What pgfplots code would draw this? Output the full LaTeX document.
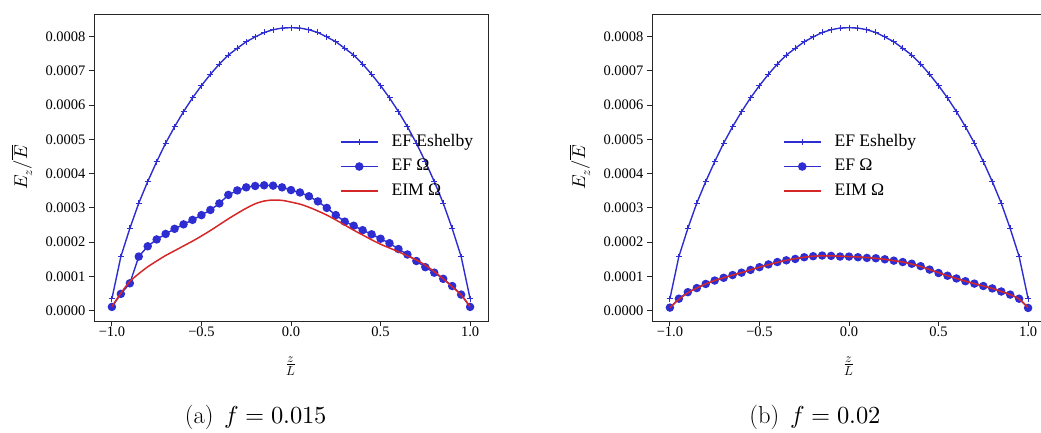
\documentclass[border=0pt]{standalone}
\usepackage{pgfplots}
\pgfplotsset{compat=1.18}
\usepackage{fontspec}
\usepackage{unicode-math}
\newfontfamily\tnr{Liberation Serif}
\definecolor{efblue}{RGB}{45,45,210}
\definecolor{eimred}{RGB}{214,39,40}

\pgfplotstableread{
x y
-1.00 0.000035
-0.95 0.000158
-0.90 0.000240
-0.85 0.000314
-0.80 0.000377
-0.75 0.000435
-0.70 0.000489
-0.65 0.000537
-0.60 0.000581
-0.55 0.000621
-0.50 0.000657
-0.45 0.000690
-0.40 0.000720
-0.35 0.000746
-0.30 0.000766
-0.25 0.000785
-0.20 0.000799
-0.15 0.000812
-0.10 0.000820
-0.05 0.000825
0.00 0.000826
0.05 0.000825
0.10 0.000820
0.15 0.000812
0.20 0.000799
0.25 0.000785
0.30 0.000766
0.35 0.000746
0.40 0.000720
0.45 0.000690
0.50 0.000657
0.55 0.000621
0.60 0.000581
0.65 0.000537
0.70 0.000489
0.75 0.000435
0.80 0.000377
0.85 0.000314
0.90 0.000240
0.95 0.000158
1.00 0.000035
}\eshelby

\pgfplotstableread{
x y
-1.00 0.000011
-0.95 0.000049
-0.90 0.000080
-0.85 0.000158
-0.80 0.000188
-0.75 0.000208
-0.70 0.000224
-0.65 0.000239
-0.60 0.000252
-0.55 0.000265
-0.50 0.000279
-0.45 0.000294
-0.40 0.000313
-0.35 0.000338
-0.30 0.000351
-0.25 0.000360
-0.20 0.000364
-0.15 0.000366
-0.10 0.000365
-0.05 0.000360
0.00 0.000352
0.05 0.000345
0.10 0.000334
0.15 0.000319
0.20 0.000300
0.25 0.000279
0.30 0.000260
0.35 0.000248
0.40 0.000235
0.45 0.000223
0.50 0.000210
0.55 0.000197
0.60 0.000180
0.65 0.000164
0.70 0.000145
0.75 0.000127
0.80 0.000111
0.85 0.000093
0.90 0.000072
0.95 0.000047
1.00 0.000011
}\efA

\pgfplotstableread{
x y
-1.00 0.000012
-0.95 0.000051
-0.90 0.000085
-0.85 0.000108
-0.80 0.000128
-0.75 0.000145
-0.70 0.000161
-0.65 0.000175
-0.60 0.000189
-0.55 0.000203
-0.50 0.000218
-0.45 0.000234
-0.40 0.000251
-0.35 0.000268
-0.30 0.000284
-0.25 0.000299
-0.20 0.000312
-0.15 0.000320
-0.10 0.000323
-0.05 0.000322
0.00 0.000317
0.05 0.000311
0.10 0.000302
0.15 0.000291
0.20 0.000279
0.25 0.000265
0.30 0.000250
0.35 0.000235
0.40 0.000221
0.45 0.000207
0.50 0.000194
0.55 0.000183
0.60 0.000172
0.65 0.000160
0.70 0.000148
0.75 0.000133
0.80 0.000114
0.85 0.000093
0.90 0.000070
0.95 0.000046
1.00 0.000012
}\eimA

\pgfplotstableread{
x y
-1.00 0.000009
-0.95 0.000035
-0.90 0.000054
-0.85 0.000066
-0.80 0.000078
-0.75 0.000088
-0.70 0.000096
-0.65 0.000104
-0.60 0.000111
-0.55 0.000119
-0.50 0.000127
-0.45 0.000135
-0.40 0.000142
-0.35 0.000147
-0.30 0.000151
-0.25 0.000156
-0.20 0.000159
-0.15 0.000161
-0.10 0.000160
-0.05 0.000158
0.00 0.000158
0.05 0.000156
0.10 0.000154
0.15 0.000153
0.20 0.000150
0.25 0.000146
0.30 0.000142
0.35 0.000137
0.40 0.000130
0.45 0.000120
0.50 0.000110
0.55 0.000102
0.60 0.000094
0.65 0.000086
0.70 0.000079
0.75 0.000072
0.80 0.000065
0.85 0.000056
0.90 0.000047
0.95 0.000035
1.00 0.000008
}\efB

\pgfplotstableread{
x y
-1.00 0.000009
-0.95 0.000033
-0.90 0.000052
-0.85 0.000066
-0.80 0.000078
-0.75 0.000088
-0.70 0.000096
-0.65 0.000104
-0.60 0.000111
-0.55 0.000119
-0.50 0.000127
-0.45 0.000134
-0.40 0.000141
-0.35 0.000147
-0.30 0.000152
-0.25 0.000156
-0.20 0.000159
-0.15 0.000160
-0.10 0.000160
-0.05 0.000159
0.00 0.000158
0.05 0.000157
0.10 0.000155
0.15 0.000153
0.20 0.000150
0.25 0.000146
0.30 0.000142
0.35 0.000136
0.40 0.000129
0.45 0.000120
0.50 0.000111
0.55 0.000102
0.60 0.000094
0.65 0.000086
0.70 0.000079
0.75 0.000072
0.80 0.000065
0.85 0.000056
0.90 0.000047
0.95 0.000034
1.00 0.000009
}\eimB

\pgfplotsset{
  myax/.style={
    scale only axis, width=394bp, height=307bp, anchor=south west,
    clip mode=individual,
    xmin=-1.1, xmax=1.1, ymin=-0.0000301, ymax=0.000866,
    xtick={-1,-0.5,0,0.5,1},
    xticklabels={−1.0,−0.5,0.0,0.5,1.0},
    ytick={0,0.0001,0.0002,0.0003,0.0004,0.0005,0.0006,0.0007,0.0008},
    yticklabels={0.0000,0.0001,0.0002,0.0003,0.0004,0.0005,0.0006,0.0007,0.0008},
    scaled y ticks=false, scaled x ticks=false,
    tick align=outside, tick pos=left, major tick length=5bp,
    ticklabel style={font=\fontsize{14.5bp}{16bp}\tnr},
    xticklabel style={yshift=3bp},
    axis line style={black!85, line width=0.9bp},
    every tick/.style={black!85, line width=0.9bp},
    xlabel={$\frac{z}{L}$}, ylabel={$E_z/\overline{E}$},
    label style={font=\fontsize{18.5bp}{20bp}\selectfont},
    xlabel style={at={(axis description cs:0.5,-0.147)}, anchor=center},
    ylabel style={at={(axis description cs:-0.183,0.5)}, anchor=center},
    legend style={draw=none, fill=none, inner sep=0pt, outer sep=0pt,
      anchor=north west, row sep=8.5bp,
      font=\fontsize{17.6bp}{20bp}\tnr,
      nodes={inner sep=0pt, text height=12bp, text depth=4bp}},
    legend cell align=left,
    legend image code/.code={
      \draw[mark repeat=2,mark phase=2,##1,line width=1.5bp] plot coordinates {(0bp,0bp) (18.5bp,0bp) (37bp,0bp)};},
  },
  esh/.style={efblue, line width=1.4bp, mark=+, mark size=3bp, mark options={line width=1bp}},
  efo/.style={efblue, line width=1.4bp, mark=*, mark size=3.5bp, mark options={fill=efblue, draw=efblue}},
  eim/.style={eimred, line width=1.5bp, no marks, smooth},
}

\begin{document}
\begin{tikzpicture}[x=1bp,y=1bp]
\begin{axis}[myax, at={(94bp,112bp)},
  legend style={at={(axis description cs:0.6244,0.609)}}]
  \addplot[esh] table[x=x,y=y] {\eshelby};
  \addlegendentry{\hspace{13bp}EF Eshelby}
  \addplot[efo] table[x=x,y=y] {\efA};
  \addlegendentry{\hspace{13bp}EF Ω}
  \addplot[eim] table[x=x,y=y] {\eimA};
  \addlegendentry{\hspace{13bp}EIM Ω}
\end{axis}
\begin{axis}[myax, at={(652bp,112bp)},
  legend style={at={(axis description cs:0.3325,0.609)}}]
  \addplot[esh] table[x=x,y=y] {\eshelby};
  \addlegendentry{\hspace{13bp}EF Eshelby}
  \addplot[efo] table[x=x,y=y] {\efB};
  \addlegendentry{\hspace{13bp}EF Ω}
  \addplot[eim] table[x=x,y=y] {\eimB};
  \addlegendentry{\hspace{13bp}EIM Ω}
\end{axis}
\node at (256bp,16bp) {\fontsize{24.5bp}{28bp}\selectfont (a)\hspace{0.45em}$f = 0.015$};
\node at (815bp,16bp) {\fontsize{24.5bp}{28bp}\selectfont (b)\hspace{0.45em}$f = 0.02$};
\pgfresetboundingbox
\path (0bp,0bp) rectangle (1041bp,433bp);
\end{tikzpicture}
\end{document}
